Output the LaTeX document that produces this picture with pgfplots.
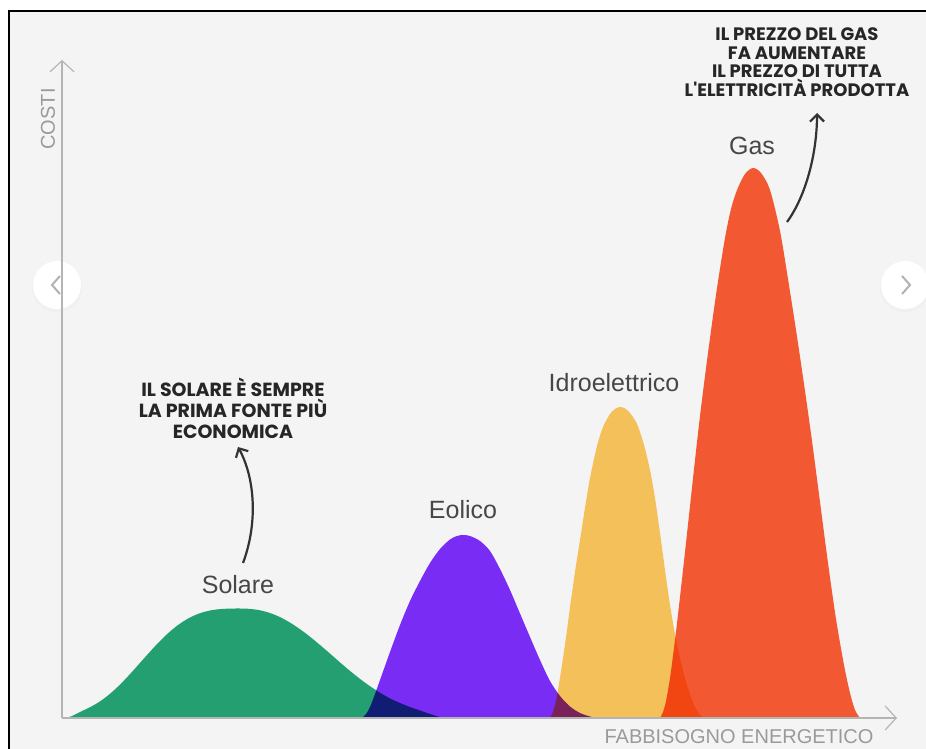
\documentclass[border=0pt]{standalone}
\usepackage{pgfplots}
\pgfplotsset{compat=1.18}
\usetikzlibrary{arrows.meta}
\usepackage{fontspec}
\setmainfont{Liberation Sans}
\newfontfamily\annfont{Poppins}

\definecolor{bgpanel}{HTML}{F4F4F4}
\definecolor{axisgray}{HTML}{B4B4B4}
\definecolor{labgray}{HTML}{9A9A9A}
\definecolor{txtgray}{HTML}{474747}
\definecolor{arrowgray}{HTML}{333333}
% colours are multiplied over the panel, so a bit lighter than they look
\definecolor{csolare}{RGB}{37,167,120}
\definecolor{ceolico}{RGB}{127,47,255}
\definecolor{cidro}{RGB}{255,201,94}
\definecolor{cgas}{RGB}{253,93,53}

\begin{document}
\begin{tikzpicture}
\begin{axis}[
    scale only axis,
    width=417.5bp, height=329bp,
    xmin=62, xmax=897, ymin=0, ymax=658,
    axis lines=left,
    axis on top,
    clip=false,
    ticks=none,
    every outer x axis line/.append style={draw=axisgray, line width=0.6bp,
        -{Straight Barb[length=5.5bp,width=12bp]}},
    every outer y axis line/.append style={draw=axisgray, line width=0.6bp,
        -{Straight Barb[length=5.5bp,width=12bp]}},
    every axis plot/.append style={draw=none, blend mode=multiply, smooth, tension=0.5},
]
% page and panel
\fill[white] (axis cs:0,-31) rectangle (axis cs:926,718);
\fill[bgpanel] (axis cs:9,-31) rectangle (axis cs:926,707);
\draw[black, line width=1bp] (axis cs:9,-31) -- (axis cs:9,707) -- (axis cs:926,707);
\coordinate (bbl) at (axis cs:0,-31);
\coordinate (btr) at (axis cs:926,718);

% Solare
\addplot[fill=csolare] coordinates {
    (66,0) (72,2) (80,6) (90,10.8) (100,16.6) (110,24.2) (120,33.4)
    (130,43.9) (140,55.1) (150,66.3) (160,77) (170,86.5) (180,94.4)
    (190,100.5) (200,104.8) (210,107.5) (220,108.9) (230,109.4)
    (240,109.5) (250,109.1) (260,107.7) (270,105) (280,100.9) (290,95.4)
    (300,88.8) (310,81.3) (320,73) (330,64.4) (340,55.6) (350,47.1)
    (360,39.1) (370,31.8) (380,25.3) (390,19.6) (400,15) (410,11)
    (420,7.5) (430,4) (438,1.5) (446,0)
} \closedcycle;
% Eolico
\addplot[fill=ceolico] coordinates {
    (362,0) (366,4) (370,11) (375,24) (380,38) (390,66) (400,93)
    (410,117) (420,137) (430,155) (440,169) (450,178.5) (457,182)
    (463,183) (470,182) (480,177) (490,167) (500,149) (510,128)
    (520,104.5) (530,81) (540,58) (550,37) (560,22) (570,11.5)
    (580,5) (590,1.5) (597,0)
} \closedcycle;
% Idroelettrico
\addplot[fill=cidro] coordinates {
    (550,0) (553,6) (556,17) (559,34) (563,60) (567,88) (570,111)
    (575,146) (580,178) (585,210) (590,240) (597,272) (603,291)
    (610,304) (615,309) (620,311) (625,309.5) (630,305) (637,294)
    (644,273) (650,248) (655,220) (660,185) (665,148) (670,113)
    (675,84) (680,60) (685,40) (690,24) (695,11) (700,3) (704,0)
} \closedcycle;
% Gas
\addplot[fill=cgas] coordinates {
    (660,0) (663,6) (666,17) (670,40) (675,78) (680,121) (685,166)
    (690,212) (695,258) (700,302) (705,342) (710,380) (717,430)
    (725,480) (731,509) (737,528) (745,544) (753,550) (761,545)
    (770,528) (780,487) (788,439) (796,388) (804,334) (812,277)
    (820,216) (828,155) (836,99) (844,53) (850,25) (855,8) (860,0)
} \closedcycle;

% axis titles
\node[rotate=90, text=labgray, font=\fontsize{10bp}{12bp}\selectfont]
    at (axis cs:48,599) {COSTI};
\node[text=labgray, font=\fontsize{10bp}{12bp}\selectfont]
    at (axis cs:739,-19) {FABBISOGNO ENERGETICO};

% source names
\begin{scope}[every node/.style={text=txtgray, font=\fontsize{12.5bp}{15bp}\selectfont}]
\node at (axis cs:238,133) {Solare};
\node at (axis cs:463,208) {Eolico};
\node at (axis cs:614,335) {Idroelettrico};
\node at (axis cs:752,572) {Gas};
\end{scope}

% notes
\node[align=center, text=black!85, font=\annfont\bfseries\fontsize{9.5bp}{10.6bp}\selectfont]
    at (axis cs:233,310) {IL SOLARE È SEMPRE\\LA PRIMA FONTE PIÙ\\ECONOMICA};
\node[align=center, text=black!85, font=\annfont\bfseries\fontsize{9bp}{9.3bp}\selectfont]
    at (axis cs:797,656) {IL PREZZO DEL GAS\\FA AUMENTARE\\IL PREZZO DI TUTTA\\L'ELETTRICITÀ PRODOTTA};
\draw[arrowgray, line width=1.1bp, -{Straight Barb[length=3.5bp,width=7bp]}]
    (axis cs:243,155) .. controls (axis cs:258,195) and (axis cs:255,240) .. (axis cs:238,271);
\draw[arrowgray, line width=1.1bp, -{Straight Barb[length=3.5bp,width=7bp]}]
    (axis cs:787,496) .. controls (axis cs:806,522) and (axis cs:817,565) .. (axis cs:817,605);

% carousel buttons of the page the chart was taken from
\fill[black!6] (axis cs:57,431) circle[radius=12.6bp];
\fill[white] (axis cs:57,433) circle[radius=12bp];
\draw[black!30, line width=1bp] (axis cs:60,442) -- (axis cs:52,433) -- (axis cs:60,424);
\fill[black!6] (axis cs:905,431) circle[radius=12.6bp];
\fill[white] (axis cs:905,433) circle[radius=12bp];
\draw[black!30, line width=1bp] (axis cs:902,442) -- (axis cs:910,433) -- (axis cs:902,424);
\end{axis}
\pgfresetboundingbox
\useasboundingbox (bbl) rectangle (btr);
\end{tikzpicture}
\end{document}
